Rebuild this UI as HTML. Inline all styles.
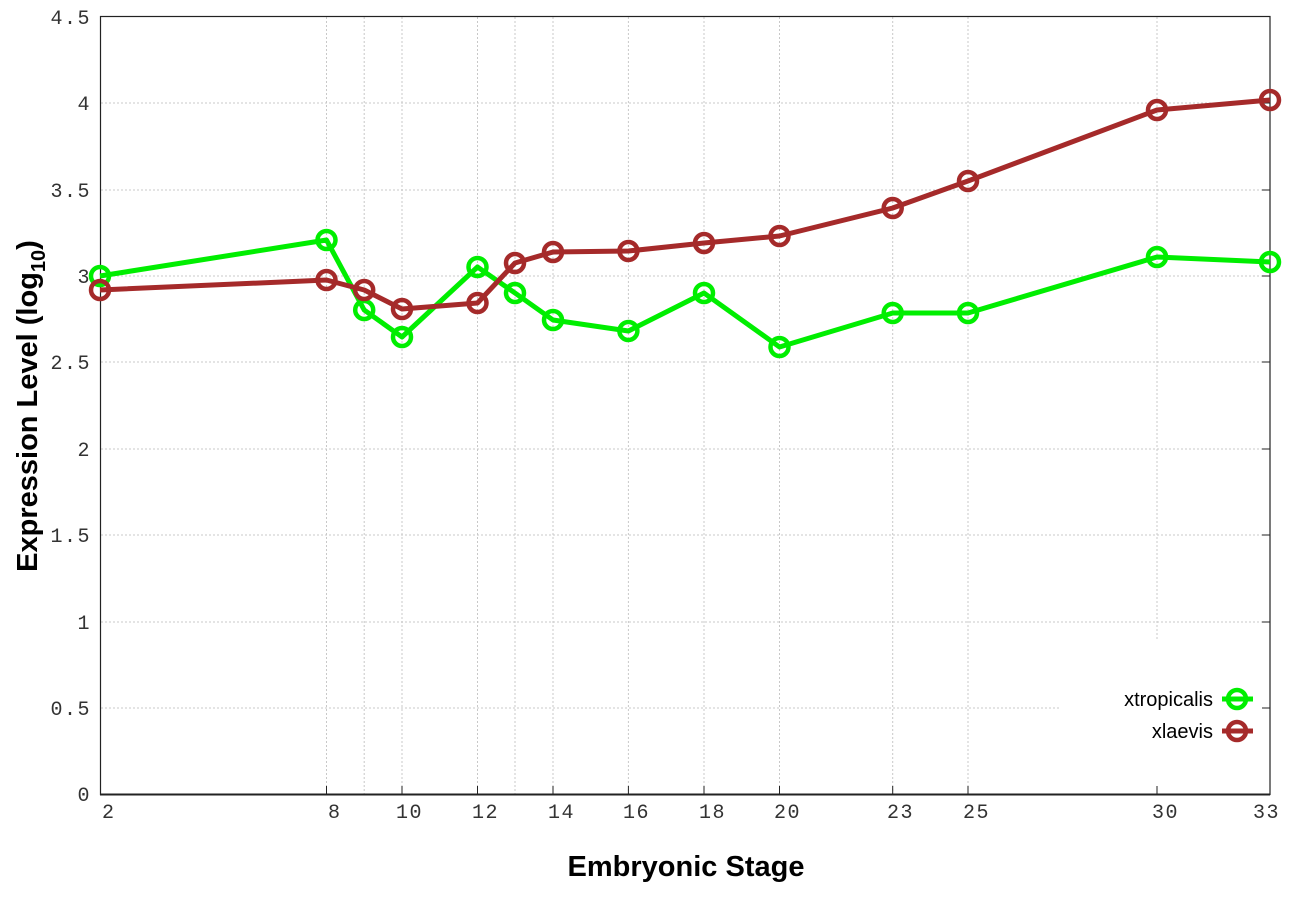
<!DOCTYPE html>
<html><head><style>
body{margin:0;background:#fff}
svg text{font-family:"Liberation Mono",monospace;font-size:20px;fill:#333;letter-spacing:1.5px}
.b{font-family:"Liberation Sans",sans-serif;font-weight:bold;font-size:29px;fill:#000;letter-spacing:0}
.l{font-family:"Liberation Sans",sans-serif;font-size:20px;fill:#000;letter-spacing:0}
</style></head><body>
<svg width="1296" height="907" xmlns="http://www.w3.org/2000/svg">
<rect width="1296" height="907" fill="#fff"/>
<g stroke="#c8c8c8" stroke-width="1" stroke-dasharray="2,2">
<line x1="101" x2="1270" y1="103" y2="103"/><line x1="101" x2="1270" y1="190" y2="190"/>
<line x1="101" x2="1270" y1="276" y2="276"/><line x1="101" x2="1270" y1="362" y2="362"/>
<line x1="101" x2="1270" y1="449" y2="449"/><line x1="101" x2="1270" y1="535" y2="535"/>
<line x1="101" x2="1270" y1="622" y2="622"/><line x1="101" x2="1060" y1="708" y2="708"/>
<line y1="17" y2="794" x1="326.5" x2="326.5"/><line y1="17" y2="794" x1="364.2" x2="364.2"/>
<line y1="17" y2="794" x1="402" x2="402"/><line y1="17" y2="794" x1="477.5" x2="477.5"/>
<line y1="17" y2="794" x1="515" x2="515"/><line y1="17" y2="794" x1="553" x2="553"/>
<line y1="17" y2="794" x1="628.4" x2="628.4"/><line y1="17" y2="794" x1="704" x2="704"/>
<line y1="17" y2="794" x1="779.5" x2="779.5"/><line y1="17" y2="794" x1="892.7" x2="892.7"/>
<line y1="17" y2="794" x1="968" x2="968"/><line y1="17" y2="640" x1="1157" x2="1157"/>
</g>
<g stroke="#222" stroke-width="1">
<line x1="1262" x2="1270" y1="103" y2="103"/><line x1="1262" x2="1270" y1="190" y2="190"/>
<line x1="1262" x2="1270" y1="276" y2="276"/><line x1="1262" x2="1270" y1="362" y2="362"/>
<line x1="1262" x2="1270" y1="449" y2="449"/><line x1="1262" x2="1270" y1="535" y2="535"/>
<line x1="1262" x2="1270" y1="622" y2="622"/><line x1="1262" x2="1270" y1="708" y2="708"/>
<line y1="786" y2="794" x1="326.5" x2="326.5"/><line y1="786" y2="794" x1="402" x2="402"/>
<line y1="786" y2="794" x1="477.5" x2="477.5"/><line y1="786" y2="794" x1="553" x2="553"/>
<line y1="786" y2="794" x1="628.4" x2="628.4"/><line y1="786" y2="794" x1="704" x2="704"/>
<line y1="786" y2="794" x1="779.5" x2="779.5"/><line y1="786" y2="794" x1="892.7" x2="892.7"/>
<line y1="786" y2="794" x1="968" x2="968"/><line y1="786" y2="794" x1="1157" x2="1157"/>
</g>
<rect x="100.5" y="16.5" width="1169.5" height="778" fill="none" stroke="#222" stroke-width="1.2"/>
<line x1="100" x2="1270" y1="794.5" y2="794.5" stroke="#222" stroke-width="2"/>
<g text-anchor="end">
<text x="91" y="24">4.5</text><text x="91" y="110">4</text><text x="91" y="197">3.5</text>
<text x="91" y="283">3</text><text x="91" y="369">2.5</text><text x="91" y="456">2</text>
<text x="91" y="542">1.5</text><text x="91" y="629">1</text><text x="91" y="715">0.5</text>
<text x="91" y="801">0</text>
</g>
<g>
<text x="102" y="818">2</text><text x="328" y="818">8</text><text x="396" y="818">10</text>
<text x="472" y="818">12</text><text x="548" y="818">14</text><text x="623" y="818">16</text>
<text x="699" y="818">18</text><text x="774" y="818">20</text><text x="887" y="818">23</text>
<text x="963" y="818">25</text><text x="1152" y="818">30</text><text x="1253" y="818">33</text>
</g>
<text class="b" x="686" y="876" text-anchor="middle">Embryonic Stage</text>
<text class="b" transform="translate(37,406) rotate(-90)" text-anchor="middle">Expression Level (log<tspan font-size="20" dy="8">10</tspan><tspan dy="-8">)</tspan></text>
<g fill="none" stroke-width="5" stroke-linejoin="round">
<polyline stroke="#00ee00" points="100,276 326.5,240 364.2,310 402,337 477.5,267 515,293 553,320 628.4,331 704,293 779.5,347 892.7,313 968,313 1157,257 1270,262"/>
<polyline stroke="#a52a2a" points="100,290 326.5,280 364.2,290 402,309 477.5,303 515,263 553,252 628.4,251 704,243 779.5,236 892.7,208 968,181 1157,110 1270,100"/>
</g>
<g fill="none" stroke-width="4.5" stroke="#00ee00">
<circle cx="100" cy="276" r="9"/><circle cx="326.5" cy="240" r="9"/><circle cx="364.2" cy="310" r="9"/><circle cx="402" cy="337" r="9"/><circle cx="477.5" cy="267" r="9"/><circle cx="515" cy="293" r="9"/><circle cx="553" cy="320" r="9"/><circle cx="628.4" cy="331" r="9"/><circle cx="704" cy="293" r="9"/><circle cx="779.5" cy="347" r="9"/><circle cx="892.7" cy="313" r="9"/><circle cx="968" cy="313" r="9"/><circle cx="1157" cy="257" r="9"/><circle cx="1270" cy="262" r="9"/>
<circle cx="1237" cy="699" r="9"/>
</g>
<g fill="none" stroke-width="4.5" stroke="#a52a2a">
<circle cx="100" cy="290" r="9"/><circle cx="326.5" cy="280" r="9"/><circle cx="364.2" cy="290" r="9"/><circle cx="402" cy="309" r="9"/><circle cx="477.5" cy="303" r="9"/><circle cx="515" cy="263" r="9"/><circle cx="553" cy="252" r="9"/><circle cx="628.4" cy="251" r="9"/><circle cx="704" cy="243" r="9"/><circle cx="779.5" cy="236" r="9"/><circle cx="892.7" cy="208" r="9"/><circle cx="968" cy="181" r="9"/><circle cx="1157" cy="110" r="9"/><circle cx="1270" cy="100" r="9"/>
<circle cx="1237" cy="731" r="9"/>
</g>
<line x1="1222" x2="1253" y1="699" y2="699" stroke="#00ee00" stroke-width="5"/>
<line x1="1222" x2="1253" y1="731" y2="731" stroke="#a52a2a" stroke-width="5"/>
<text class="l" x="1213" y="706" text-anchor="end">xtropicalis</text>
<text class="l" x="1213" y="738" text-anchor="end">xlaevis</text>
</svg>
</body></html>
